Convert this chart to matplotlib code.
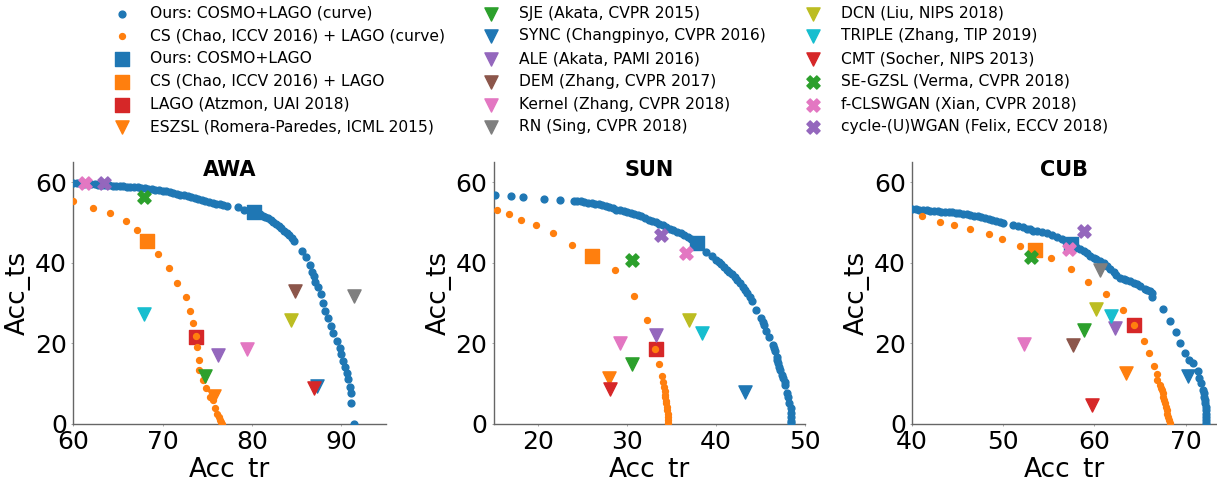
import matplotlib
matplotlib.use("Agg")
import matplotlib.pyplot as plt

# ---- curve data ----
AWA_OURS_X = [60.0, 60.4, 60.8, 61.2, 61.6, 62.0, 62.4, 62.8, 63.2, 63.6, 64.0, 64.4, 64.8, 65.2, 65.6,
              66.0, 66.4, 66.8, 67.2, 67.6, 68.0, 68.4, 68.8, 69.2, 69.6, 70.0, 70.4, 70.8, 71.2, 71.6,
              72.0, 72.4, 72.8, 73.2, 73.6, 74.0, 74.4, 74.8, 75.2, 75.6, 76.0, 76.4, 76.8, 77.2,
              78.4, 79.1, 80.2, 80.6, 80.9, 81.2, 81.5, 81.8, 82.1, 82.4, 82.7, 83.0, 83.3, 83.6, 83.9,
              84.2, 84.5, 84.7, 85.6, 86.0, 86.5, 86.7, 86.9, 87.1, 87.4, 87.7, 88.0, 88.2, 88.5, 88.8,
              89.1, 89.5, 89.9, 90.0, 90.2, 90.4, 90.6, 90.8, 91.0, 91.1, 91.1, 91.4]
AWA_OURS_Y = [59.8, 59.75, 59.7, 59.65, 59.6, 59.55, 59.5, 59.4, 59.35, 59.3, 59.2, 59.15, 59.1, 59.0, 58.95,
              58.9, 58.85, 58.8, 58.7, 58.6, 58.5, 58.4, 58.25, 58.1, 58.0, 57.85, 57.7, 57.5, 57.3, 57.1,
              56.9, 56.7, 56.45, 56.2, 56.0, 55.75, 55.5, 55.3, 55.1, 54.9, 54.7, 54.5, 54.3, 54.1,
              53.8, 53.1, 52.6, 52.4, 52.1, 51.7, 51.3, 51.0, 50.6, 50.1, 49.6, 49.1, 48.6, 48.0, 47.4,
              46.8, 46.1, 45.5, 43.0, 41.4, 39.5, 37.8, 36.8, 35.3, 34.1, 32.3, 30.1, 28.1, 26.2, 24.4,
              22.5, 20.7, 18.8, 17.4, 15.7, 14.1, 12.7, 11.1, 9.3, 7.8, 5.3, 0.0]
AWA_CS_X = [60.0, 62.2, 64.1, 65.9, 67.1, 68.3, 69.5, 70.7, 71.6, 72.6, 73.1, 73.4, 73.7, 73.8, 74.1,
            74.1, 74.5, 74.9, 75.3, 75.6, 75.9, 76.1, 76.3, 76.4, 76.5, 76.6]
AWA_CS_Y = [55.2, 53.6, 52.3, 50.4, 48.2, 45.3, 42.1, 38.7, 34.9, 31.6, 28.1, 25.0, 21.9, 19.0, 15.9,
            13.4, 10.9, 8.9, 6.6, 6.0, 3.9, 2.6, 1.8, 1.0, 0.5, 0.0]

SUN_OURS_X = [15.1, 16.9, 18.3, 20.7, 22.5, 24.0, 24.4, 24.8, 25.2, 25.6, 26.0, 26.4, 26.8, 27.2, 27.6,
              28.0, 28.4, 28.8, 29.2, 29.6, 30.0, 30.4, 30.8, 31.2, 31.6, 32.0, 32.4, 32.8, 33.2, 33.6,
              34.0, 34.4, 34.8, 35.2, 35.6, 36.0, 36.4, 36.8, 37.2, 37.5, 37.8, 38.9, 39.5, 40.0, 40.3,
              40.6, 40.9, 41.2, 41.5, 41.8, 42.1, 42.4, 42.7, 43.0, 43.3, 43.5, 43.8, 44.0, 44.5, 45.0,
              45.3, 45.4, 45.6, 46.0, 46.4, 46.5, 46.6, 46.8, 46.9, 47.0, 47.1, 47.2, 47.4, 47.5, 47.7,
              47.8, 48.0, 48.1, 48.2, 48.4, 48.4, 48.4, 48.4, 48.4]
SUN_OURS_Y = [56.7, 56.5, 56.2, 55.8, 55.6, 55.4, 55.3, 55.2, 55.05, 54.9, 54.8, 54.6, 54.5, 54.3, 54.0,
              53.8, 53.5, 53.2, 53.0, 52.8, 52.6, 52.4, 52.2, 51.9, 51.5, 51.1, 50.7, 50.3, 50.0, 49.6,
              49.3, 48.9, 48.5, 48.1, 47.7, 47.3, 46.9, 46.5, 46.0, 45.7, 44.9, 42.6, 41.6, 40.6, 40.1,
              39.6, 39.0, 38.2, 37.7, 37.1, 36.4, 35.7, 35.0, 34.1, 33.2, 32.5, 31.5, 30.4, 28.3, 26.2,
              25.3, 24.6, 23.1, 21.5, 19.6, 18.8, 18.0, 16.7, 15.8, 15.1, 14.2, 13.4, 12.2, 11.3, 10.4,
              9.7, 7.6, 6.6, 5.1, 3.9, 2.8, 1.8, 0.8, 0.2]
SUN_CS_X = [15.4, 16.7, 18.1, 19.8, 21.7, 23.8, 26.0, 28.6, 30.8, 32.2, 33.1, 33.6, 33.9, 34.0, 34.1,
            34.2, 34.3, 34.3, 34.4, 34.4, 34.5, 34.5, 34.6, 34.6, 34.6, 34.6]
SUN_CS_Y = [53.1, 52.1, 50.7, 49.3, 47.5, 44.5, 41.6, 38.2, 31.8, 25.7, 18.6, 14.9, 11.9, 10.5, 9.3,
            8.3, 7.2, 6.6, 5.8, 5.1, 4.2, 3.5, 2.6, 1.8, 1.0, 0.3]

CUB_OURS_X = [40.0, 40.4, 40.8, 41.2, 41.6, 42.0, 42.4, 42.8, 43.2, 43.6, 44.0, 44.4, 44.8, 45.2, 45.6,
              46.0, 46.4, 46.8, 47.2, 47.6, 48.0, 48.4, 48.8, 49.2, 49.6, 50.0, 51.1, 51.6, 52.2, 52.6,
              52.9, 53.3, 53.7, 54.2, 54.8, 55.3, 55.9, 56.4, 56.9, 57.4, 58.0, 58.4, 58.8, 59.2, 59.5,
              59.9, 60.2, 60.6, 61.0, 61.4, 61.7, 62.1, 62.4, 62.8, 63.2, 63.5, 63.9, 64.3, 64.7, 65.0,
              65.5, 65.8, 66.1, 66.3, 66.3, 67.5, 68.3, 68.9, 69.4, 69.9, 70.4, 70.8, 71.3, 71.5, 71.7,
              71.9, 72.0, 72.0, 72.1, 72.1, 72.2, 72.2, 72.2, 72.2, 72.2, 72.2]
CUB_OURS_Y = [53.3, 53.25, 53.2, 53.1, 53.0, 52.95, 52.9, 52.8, 52.7, 52.65, 52.6, 52.5, 52.4, 52.3, 52.2,
              52.05, 51.9, 51.7, 51.5, 51.3, 51.0, 50.8, 50.5, 50.3, 50.1, 49.9, 49.3, 49.1, 48.8, 48.5,
              48.3, 48.0, 47.8, 47.6, 47.3, 46.9, 46.4, 45.9, 45.2, 44.9, 44.0, 43.4, 42.8, 42.3, 41.7,
              41.3, 40.9, 40.5, 39.9, 39.1, 38.4, 37.7, 37.0, 36.2, 36.0, 35.8, 35.5, 35.1, 34.7, 34.3,
              33.4, 33.2, 32.9, 32.5, 31.6, 28.5, 25.6, 22.9, 20.0, 17.5, 15.9, 15.1, 13.2, 11.5, 10.1,
              8.4, 7.6, 6.8, 5.9, 5.1, 4.2, 3.5, 2.6, 1.8, 1.0, 0.3]
CUB_CS_X = [41.1, 43.1, 44.6, 46.4, 48.4, 49.9, 51.8, 53.5, 55.2, 57.4, 59.3, 61.3, 63.1, 64.3, 65.4,
            66.0, 66.5, 66.8, 66.9, 67.2, 67.3, 67.4, 67.5, 67.5, 67.6, 67.7, 67.8, 67.9, 68.0, 68.1,
            68.2, 68.3]
CUB_CS_Y = [51.5, 50.2, 49.4, 48.3, 47.2, 45.9, 44.2, 43.2, 41.1, 38.4, 35.3, 32.2, 28.3, 24.6, 20.6,
            17.7, 14.4, 12.4, 10.8, 9.7, 9.0, 8.4, 7.6, 6.8, 6.0, 5.1, 4.3, 3.5, 2.6, 1.8,
            1.0, 0.3]

# ---- single methods ----
METHODS = [
    "Ours: COSMO+LAGO",
    "CS (Chao, ICCV 2016) + LAGO",
    "LAGO (Atzmon, UAI 2018)",
    "ESZSL (Romera-Paredes, ICML 2015)",
    "SJE (Akata, CVPR 2015)",
    "SYNC (Changpinyo, CVPR 2016)",
    "ALE (Akata, PAMI 2016)",
    "DEM (Zhang, CVPR 2017)",
    "Kernel (Zhang, CVPR 2018)",
    "RN (Sing, CVPR 2018)",
    "DCN (Liu, NIPS 2018)",
    "TRIPLE (Zhang, TIP 2019)",
    "CMT (Socher, NIPS 2013)",
    "SE-GZSL (Verma, CVPR 2018)",
    "f-CLSWGAN (Xian, CVPR 2018)",
    "cycle-(U)WGAN (Felix, ECCV 2018)",
]
MARKERS = ["s", "s", "s"] + ["v"] * 10 + ["X"] * 3
COLORS = ["C0", "C1", "C3", "C1", "C2", "C0", "C4", "C5", "C6", "C7", "C8", "C9", "C3", "C2", "C6", "C4"]

AWA_TR = [80.2, 68.3, 73.7, 75.7, 74.7, 87.3, 76.2, 84.8, 79.4, 91.4, 84.4, 67.9, 87.0, 67.9, 61.3, 63.4]
AWA_TS = [52.6, 45.3, 21.7, 7.0, 11.8, 9.4, 17.1, 33.1, 18.5, 31.8, 25.8, 27.3, 8.9, 56.3, 59.8, 59.9]
SUN_TR = [37.8, 26.0, 33.2, 28.0, 30.5, 43.3, 33.2, None, 29.2, None, 37.0, 38.4, 28.1, 30.5, 36.6, 33.8]
SUN_TS = [44.9, 41.6, 18.7, 11.3, 14.8, 8.0, 22.1, None, 20.0, None, 25.7, 22.5, 8.8, 40.7, 42.4, 46.9]
CUB_TR = [57.4, 53.5, 64.3, 63.4, 58.9, 70.3, 62.3, 57.6, 52.3, 60.6, 60.2, 61.8, 59.7, 53.0, 57.2, 58.9]
CUB_TS = [44.6, 43.2, 24.6, 12.7, 23.3, 11.8, 23.8, 19.6, 19.9, 38.2, 28.5, 26.9, 4.7, 41.4, 43.4, 47.9]

PANELS = [
    ("AWA", AWA_OURS_X, AWA_OURS_Y, AWA_CS_X, AWA_CS_Y, AWA_TR, AWA_TS, (60, 95), [60, 70, 80, 90]),
    ("SUN", SUN_OURS_X, SUN_OURS_Y, SUN_CS_X, SUN_CS_Y, SUN_TR, SUN_TS, (15, 50), [20, 30, 40, 50]),
    ("CUB", CUB_OURS_X, CUB_OURS_Y, CUB_CS_X, CUB_CS_Y, CUB_TR, CUB_TS, (40, 73.4), [40, 50, 60, 70]),
]
AX_RECTS = [
    [0.0602, 0.1167, 0.2569, 0.5458],
    [0.4057, 0.1167, 0.2558, 0.5458],
    [0.7494, 0.1167, 0.2504, 0.5458],
]


def main() -> None:
    fig = plt.figure(figsize=(12.17, 4.8), dpi=100)
    handles = None
    for rect, (name, ox, oy, cx, cy, tr, ts, xlim, xticks) in zip(AX_RECTS, PANELS):
        ax = fig.add_axes(rect)
        h = []
        h.append(ax.scatter(ox, oy, s=24, color="C0", zorder=3, label="Ours: COSMO+LAGO (curve)"))
        h.append(ax.scatter(cx, cy, s=18, color="C1", zorder=3, label="CS (Chao, ICCV 2016) + LAGO (curve)"))
        for label, m, c, x, y in zip(METHODS, MARKERS, COLORS, tr, ts):
            z = 2 if m == "s" else 4
            if x is None:
                h.append(ax.scatter([], [], s=90, marker=m, color=c, label=label))
            else:
                h.append(ax.scatter([x], [y], s=90, marker=m, color=c, zorder=z, label=label))
        if handles is None:
            handles = h
        ax.set_xlim(*xlim)
        ax.set_ylim(0, 65)
        ax.set_xticks(xticks)
        ax.set_yticks([0, 20, 40, 60])
        ax.tick_params(labelsize=18, length=1.5, width=0.6, color="#999999", pad=3)
        for side in ("top", "right"):
            ax.spines[side].set_visible(False)
        for side in ("left", "bottom"):
            ax.spines[side].set_color("#666666")
            ax.spines[side].set_linewidth(1.0)
        ax.set_xlabel("Acc_tr", fontsize=19, labelpad=2)
        ax.set_ylabel("Acc_ts", fontsize=19, labelpad=3)
        ax.set_title(name, fontsize=15, fontweight="bold", y=0.945, pad=0)

    fig.legend(handles=handles, labels=[x.get_label() for x in handles], loc="upper left",
               bbox_to_anchor=(0.0757, 1.0175), ncol=3, frameon=False, fontsize=11.2,
               labelspacing=0.5, scatterpoints=1)
    fig.savefig("out.png", dpi=100)


if __name__ == "__main__":
    main()
